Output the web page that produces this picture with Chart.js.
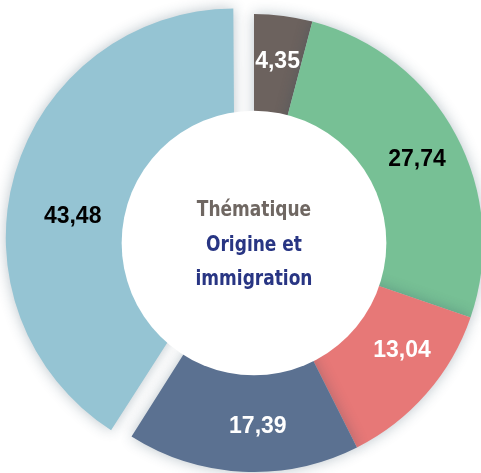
<!DOCTYPE html>
<html lang="fr">
<head>
<meta charset="utf-8">
<script src="https://cdn.jsdelivr.net/npm/chart.js@4.4.1/dist/chart.umd.min.js"></script>
<style>
  html, body { margin: 0; padding: 0; background: #fff; overflow: hidden; }
  canvas { display: block; }
</style>
</head>
<body>
<canvas id="themeChart" width="508" height="486"></canvas>
<script>
	// data
	var categories = ['Catégorie 1', 'Catégorie 2', 'Catégorie 3', 'Catégorie 4', 'Catégorie 5'];
	var values = [4.35, 27.74, 13.04, 17.39, 43.48];
	var centerTitle = 'Thématique';
	var centerLines = ['Origine et', 'immigration'];

	// styles
	var sliceColors = ['#6c625e', '#77c095', '#e77877', '#5b7191', '#95c4d3'];
	var labelColors = ['#ffffff', '#000000', '#ffffff', '#ffffff', '#000000'];
	var sliceOffsets = [0, 0, 0, 0, 80];
	var labelShift = [0, 1, -5, -4, -8]; // degrees, manual nudges
	var holeRatio = 0.578;
	var labelRatio = 0.80;
	var narrowFont = "'DejaVu Sans Condensed', 'DejaVu Sans', sans-serif";
	var squeeze = 0.86; // fake a condensed face

	var fmt = function (v) { return v.toFixed(2).replace('.', ','); };

	var ringStyle = {
		id: 'ringStyle',
		beforeDatasetsDraw: function (chart) {
			var ctx = chart.ctx;
			ctx.save();
			ctx.shadowColor = 'rgba(40, 70, 90, 0.32)';
			ctx.shadowBlur = 14;
		},
		beforeDatasetDraw: function (chart, args) {
			// Chart.js grows an exploded arc by its offset; keep it at the ring radius
			args.meta.data.forEach(function (arc, i) {
				var off = (sliceOffsets[i] || 0) / 4;
				if (!off) return;
				var circ = arc.endAngle - arc.startAngle;
				arc._keepR = arc.outerRadius;
				arc.outerRadius -= off * (1 - Math.sin(Math.min(Math.PI, circ)));
			});
		},
		afterDatasetDraw: function (chart, args) {
			args.meta.data.forEach(function (arc) {
				if (arc._keepR !== undefined) {
					arc.outerRadius = arc._keepR;
					delete arc._keepR;
				}
			});
		},
		afterDatasetsDraw: function (chart) {
			var ctx = chart.ctx;
			ctx.restore();
			var arcs = chart.getDatasetMeta(0).data;
			var cx = arcs[0].x, cy = arcs[0].y, R = arcs[0].outerRadius;

			/* centre hole */
			ctx.save();
			ctx.fillStyle = '#ffffff';
			ctx.beginPath();
			ctx.arc(cx, cy, R * holeRatio, 0, Math.PI * 2);
			ctx.fill();

			/* value labels */
			ctx.font = "bold 23px 'Liberation Sans', Arial, sans-serif";
			ctx.textAlign = 'center';
			ctx.textBaseline = 'middle';
			arcs.forEach(function (arc, i) {
				var a = (arc.startAngle + arc.endAngle) / 2 + labelShift[i] * Math.PI / 180;
				var r = R * labelRatio;
				ctx.fillStyle = labelColors[i];
				ctx.fillText(fmt(values[i]), cx + Math.cos(a) * r, cy + Math.sin(a) * r);
			});

			/* centre text */
			ctx.translate(cx, cy);
			ctx.scale(squeeze, 1);
			ctx.textBaseline = 'alphabetic';
			ctx.font = 'bold 22px ' + narrowFont;
			ctx.fillStyle = '#6f6762';
			ctx.fillText(centerTitle, 0, -27);
			ctx.fillStyle = '#283583';
			centerLines.forEach(function (line, k) {
				ctx.fillText(line, 0, 8 + k * 34);
			});
			ctx.restore();
		}
	};

	var ctx = document.getElementById('themeChart').getContext('2d');

	var themeChart = new Chart(ctx, {
		type: 'pie',
		data: {
			labels: categories,
			datasets: [{
				data: values,
				backgroundColor: sliceColors,
				offset: sliceOffsets,
				borderWidth: 0
			}]
		},
		options: {
			responsive: false,
			animation: false,
			radius: 229,
			layout: { padding: 0 },
			plugins: {
				legend: { display: false },
				tooltip: { enabled: false }
			}
		},
		plugins: [ringStyle]
	});
</script>
</body>
</html>
